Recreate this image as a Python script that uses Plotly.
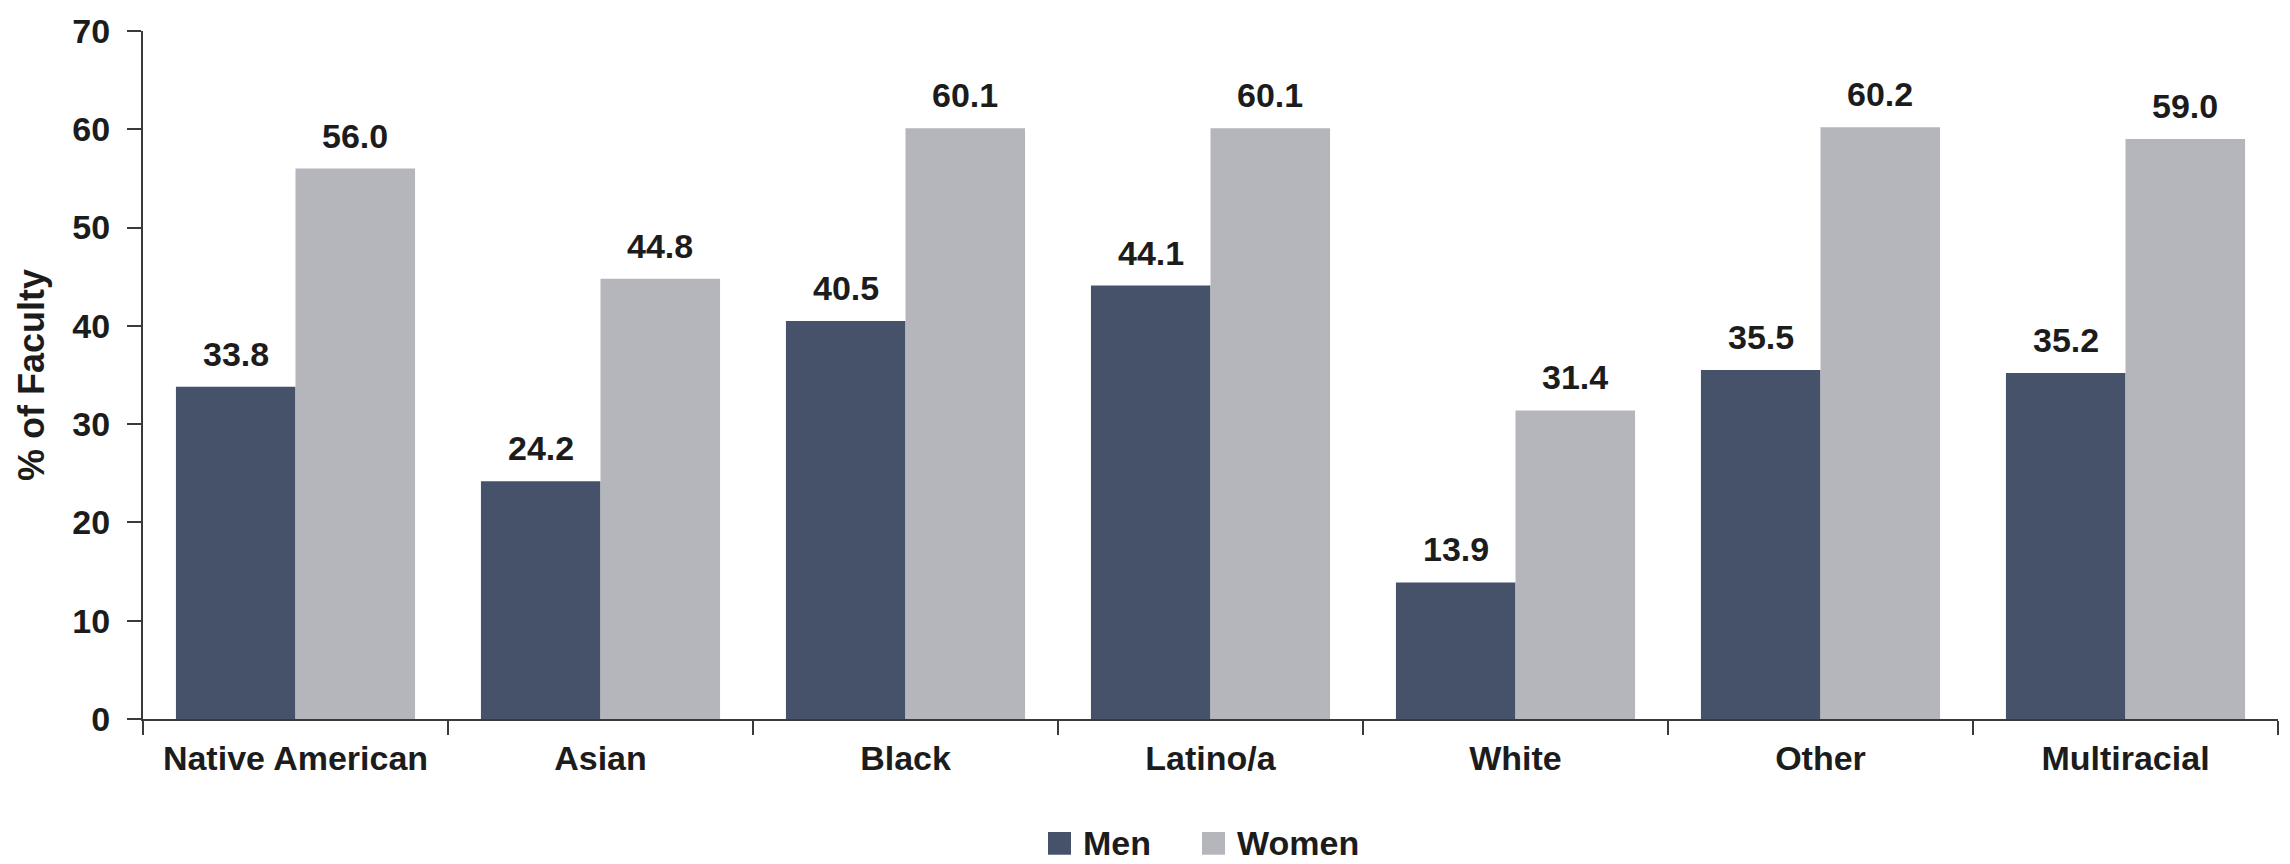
import plotly.graph_objects as go

# Share of faculty by race/ethnicity and gender
categories = ["Native American", "Asian", "Black", "Latino/a", "White", "Other", "Multiracial"]
men = [33.8, 24.2, 40.5, 44.1, 13.9, 35.5, 35.2]
women = [56.0, 44.8, 60.1, 60.1, 31.4, 60.2, 59.0]
y_ticks = [0, 10, 20, 30, 40, 50, 60, 70]

MEN_COLOR = "#465269"
WOMEN_COLOR = "#b5b5bc"
AXIS_COLOR = "#3a3a3a"
TEXT_COLOR = "#1c1c1c"
FONT = "Liberation Sans, Arial, sans-serif"

W, H = 2290, 864
M_L, M_R, M_T, M_B = 143, 12, 22, 145
BARGAP = 0.216

plot_w = W - M_L - M_R
plot_h = H - M_T - M_B
bar_px = plot_w / len(categories) * (1 - BARGAP) / 2

fig = go.Figure()
series = [("Men", men, MEN_COLOR), ("Women", women, WOMEN_COLOR)]
for name, vals, color in series:
    fig.add_trace(go.Bar(
        x=categories, y=vals, name=name,
        marker=dict(color=color, line=dict(width=0)),
        showlegend=False,
    ))

# Value labels above each bar
annotations = []
for i, (name, vals, color) in enumerate(series):
    shift = (i - 0.5) * bar_px
    for cat, v in zip(categories, vals):
        annotations.append(dict(
            x=cat, y=v, xref="x", yref="y", text=f"{v:.1f}",
            showarrow=False, xshift=shift, yshift=33, yanchor="middle",
            font=dict(family=FONT, size=34, color=TEXT_COLOR, weight="bold"),
        ))

# Legend drawn below the axis
def px_x(px):
    return (px - M_L) / plot_w

def px_y(py):
    return (H - M_B - py) / plot_h

legend_items = [("Men", MEN_COLOR, 1048), ("Women", WOMEN_COLOR, 1202)]
sw = 23
leg_cy = 845
shapes = []
for label, color, x0 in legend_items:
    shapes.append(dict(
        type="rect", xref="paper", yref="paper",
        x0=px_x(x0), x1=px_x(x0 + sw),
        y0=px_y(leg_cy + sw / 2), y1=px_y(leg_cy - sw / 2),
        fillcolor=color, line=dict(width=0),
    ))
    annotations.append(dict(
        x=px_x(x0 + sw + 10), y=px_y(leg_cy), xref="paper", yref="paper",
        text=label, showarrow=False, xanchor="left", yanchor="middle",
        font=dict(family=FONT, size=34, color=TEXT_COLOR, weight="bold"),
    ))

fig.update_layout(
    width=W, height=H,
    margin=dict(l=M_L, r=M_R, t=M_T, b=M_B, pad=0),
    paper_bgcolor="white", plot_bgcolor="white",
    barmode="group", bargap=BARGAP, bargroupgap=0,
    annotations=annotations, shapes=shapes,
    showlegend=False,
    font=dict(family=FONT, color=TEXT_COLOR),
)
fig.update_xaxes(
    showline=True, linecolor=AXIS_COLOR, linewidth=2,
    ticks="outside", tickson="boundaries", ticklen=14, tickwidth=2, tickcolor=AXIS_COLOR,
    tickfont=dict(family=FONT, size=34, color=TEXT_COLOR, weight="bold"),
    ticklabelstandoff=8,
    showgrid=False, zeroline=False,
)
fig.update_yaxes(
    range=[0, 70], tickvals=y_ticks,
    showline=True, linecolor=AXIS_COLOR, linewidth=2,
    ticks="outside", ticklen=14, tickwidth=2, tickcolor=AXIS_COLOR,
    tickfont=dict(family=FONT, size=34, color=TEXT_COLOR, weight="bold"),
    ticklabelstandoff=10,
    title=dict(text="% of Faculty", standoff=17,
               font=dict(family=FONT, size=36, color=TEXT_COLOR, weight="bold")),
    showgrid=False, zeroline=False,
)

fig.write_html("out.html")
